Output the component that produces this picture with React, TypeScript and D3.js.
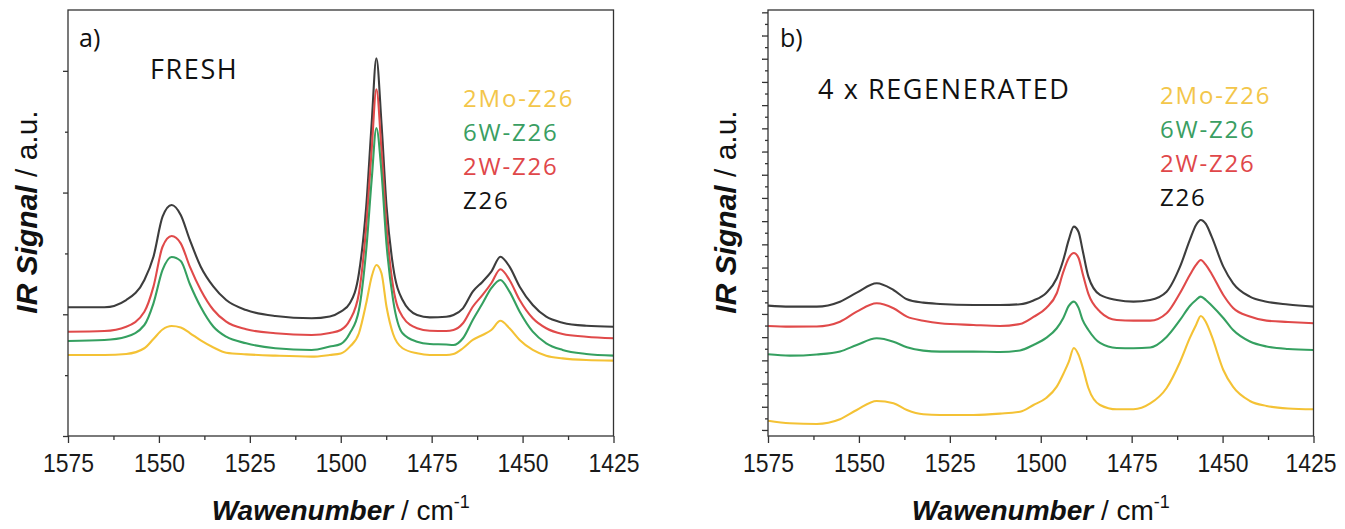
import React, { useEffect, useRef } from 'react';
import * as d3 from 'd3';

// ---------- data ----------
const X_MAJOR = [1575, 1550, 1525, 1500, 1475, 1450, 1425];
const X_MINOR = [1562.5, 1537.5, 1512.5, 1487.5, 1462.5, 1437.5];

const SERIES = ['2Mo-Z26', '6W-Z26', '2W-Z26', 'Z26'];

// Panel a) FRESH
const WN_A = [1575, 1565, 1559, 1554, 1551.5, 1549, 1546.5, 1544, 1541.5, 1538.5, 1535, 1531.5, 1526, 1518, 1508, 1503, 1500, 1497.5, 1495, 1493, 1491.5, 1490.2, 1488.8, 1487.4, 1485.6, 1483, 1479, 1475.5, 1471, 1469, 1466.4, 1463.7, 1461, 1458.6, 1456.1, 1453.6, 1450.8, 1447.2, 1443.5, 1439, 1432.5, 1425];
const Z26_A = [1.058, 1.058, 1.117, 1.282, 1.473, 1.802, 1.898, 1.816, 1.611, 1.391, 1.227, 1.117, 1.035, 0.986, 0.967, 0.982, 1.021, 1.090, 1.337, 1.884, 2.569, 3.104, 2.569, 1.884, 1.391, 1.117, 0.994, 0.975, 0.980, 0.994, 1.049, 1.186, 1.268, 1.350, 1.473, 1.391, 1.227, 1.076, 0.980, 0.931, 0.906, 0.898];
const W2_A = [0.857, 0.863, 0.898, 1.021, 1.227, 1.555, 1.643, 1.583, 1.391, 1.200, 1.035, 0.939, 0.877, 0.844, 0.830, 0.846, 0.871, 0.953, 1.173, 1.720, 2.350, 2.849, 2.350, 1.720, 1.227, 0.980, 0.885, 0.865, 0.863, 0.871, 0.926, 1.062, 1.159, 1.255, 1.370, 1.282, 1.117, 0.967, 0.885, 0.838, 0.816, 0.803];
const W6_A = [0.781, 0.789, 0.816, 0.912, 1.090, 1.364, 1.471, 1.438, 1.249, 1.060, 0.898, 0.816, 0.762, 0.721, 0.707, 0.735, 0.756, 0.844, 1.035, 1.528, 2.104, 2.531, 2.169, 1.569, 1.117, 0.844, 0.775, 0.756, 0.752, 0.748, 0.803, 0.953, 1.090, 1.214, 1.282, 1.186, 1.021, 0.857, 0.762, 0.707, 0.674, 0.660];
const MO2_A = [0.666, 0.666, 0.674, 0.721, 0.797, 0.875, 0.904, 0.892, 0.846, 0.785, 0.727, 0.684, 0.671, 0.660, 0.652, 0.666, 0.678, 0.734, 0.844, 1.090, 1.309, 1.405, 1.337, 1.060, 0.838, 0.721, 0.680, 0.666, 0.666, 0.674, 0.721, 0.789, 0.830, 0.871, 0.947, 0.885, 0.789, 0.707, 0.660, 0.638, 0.624, 0.619];

// Panel b) 4 x REGENERATED
const WN_B = [1575, 1569, 1561.6, 1555.2, 1550.6, 1545.1, 1540.5, 1536.8, 1532.3, 1527.7, 1518.5, 1511.2, 1505.7, 1502, 1498.5, 1495.6, 1493.8, 1492.3, 1490.9, 1489.6, 1488.5, 1486.9, 1483.7, 1479.1, 1474.5, 1469.9, 1465.4, 1461.7, 1459, 1457.3, 1456, 1454.6, 1453, 1449.8, 1447.1, 1442.5, 1437.9, 1432, 1425];
const Z26_B = [5.358, 5.315, 5.315, 5.530, 5.918, 6.323, 6.034, 5.634, 5.487, 5.431, 5.388, 5.388, 5.418, 5.582, 5.905, 6.539, 7.328, 8.190, 8.763, 8.534, 7.759, 6.608, 5.819, 5.603, 5.530, 5.603, 5.961, 7.039, 8.190, 8.836, 9.052, 8.879, 8.332, 7.039, 6.323, 5.746, 5.530, 5.409, 5.315];
const W2_B = [4.483, 4.453, 4.461, 4.668, 5.099, 5.461, 5.246, 4.884, 4.711, 4.599, 4.526, 4.483, 4.569, 4.871, 5.259, 5.892, 6.810, 7.414, 7.629, 7.414, 6.754, 5.862, 5.099, 4.741, 4.711, 4.711, 5.030, 5.905, 6.681, 7.112, 7.328, 7.112, 6.724, 5.819, 5.259, 4.892, 4.711, 4.655, 4.599];
const W6_B = [3.263, 3.203, 3.254, 3.384, 3.664, 3.953, 3.806, 3.565, 3.418, 3.375, 3.375, 3.362, 3.427, 3.664, 3.966, 4.384, 4.828, 5.345, 5.530, 5.259, 4.741, 4.310, 3.750, 3.534, 3.522, 3.556, 4.009, 4.741, 5.345, 5.603, 5.746, 5.603, 5.366, 4.828, 4.310, 3.815, 3.599, 3.491, 3.448];
const MO2_B = [0.401, 0.289, 0.259, 0.461, 0.862, 1.250, 1.151, 0.862, 0.677, 0.647, 0.647, 0.703, 0.789, 1.078, 1.379, 1.866, 2.414, 2.931, 3.534, 3.233, 2.716, 1.810, 1.078, 0.892, 0.892, 1.142, 1.810, 2.931, 3.966, 4.526, 4.914, 4.655, 4.052, 2.586, 1.853, 1.250, 1.034, 0.927, 0.892];

const Y_MAJOR_A = [0, 1, 2, 3];
const Y_MINOR_A = [0.5, 1.5, 2.5];
const Y_MAJOR_B = d3.range(0, 19, 1);
const Y_MINOR_B = d3.range(0.5, 18, 1);

// ---------- style ----------
const LINE_COLORS: Record<string, string> = {
  'Z26': '#3d3d3d',
  '2W-Z26': '#e04a4a',
  '6W-Z26': '#35a060',
  '2Mo-Z26': '#f4c235',
};
const TEXT_COLORS: Record<string, string> = {
  'Z26': '#111111',
  '2W-Z26': '#e0474a',
  '6W-Z26': '#3a9e62',
  '2Mo-Z26': '#f3c64a',
};
const AXIS_COLOR = '#333333';
const TOP = 10;
const BOTTOM = 436;
const SANS = "'Liberation Sans', Arial, sans-serif";
const LABEL = "'Open Sans', 'DejaVu Sans', sans-serif";

type PanelProps = {
  x0: number;
  x1: number;
  wn: number[];
  data: Record<string, number[]>;
  yDomain: [number, number];
  yMajor: number[];
  yMinor: number[];
  majorLen: number;
  minorLen: number;
  tag: string;
  tagX: number;
  note: string;
  noteX: number;
  noteY: number;
  legendX: number;
  legendY: number;
  yTitleX: number;
  lastLabelShift: number;
};

function Panel(p: PanelProps) {
  const axisRef = useRef<SVGGElement>(null);
  const xScale = d3.scaleLinear().domain([1575, 1425]).range([p.x0, p.x1]);
  const yScale = d3.scaleLinear().domain(p.yDomain).range([BOTTOM, TOP]);

  useEffect(() => {
    const g = d3.select(axisRef.current);
    g.selectAll('*').remove();

    const bMajor = g.append('g').attr('transform', `translate(0,${BOTTOM})`)
      .call(d3.axisBottom(xScale).tickValues(X_MAJOR).tickSize(7).tickPadding(11).tickFormat(d3.format('d')));
    const bMinor = g.append('g').attr('transform', `translate(0,${BOTTOM})`)
      .call(d3.axisBottom(xScale).tickValues(X_MINOR).tickSize(4).tickFormat(() => ''));
    const lMajor = g.append('g').attr('transform', `translate(${p.x0},0)`)
      .call(d3.axisLeft(yScale).tickValues(p.yMajor).tickSize(p.majorLen).tickFormat(() => ''));
    const lMinor = g.append('g').attr('transform', `translate(${p.x0},0)`)
      .call(d3.axisLeft(yScale).tickValues(p.yMinor).tickSize(p.minorLen).tickFormat(() => ''));

    [bMajor, bMinor, lMajor, lMinor].forEach((a) => {
      a.select('.domain').remove();
      a.selectAll('line').attr('stroke', AXIS_COLOR).attr('stroke-width', 1.3);
    });
    bMajor.selectAll<SVGTextElement, number>('text')
      .attr('fill', '#1a1a1a')
      .attr('font-family', SANS)
      .attr('font-size', 26)
      .attr('textLength', 51)
      .attr('lengthAdjust', 'spacingAndGlyphs')
      .attr('dx', (d) => (d === 1425 ? -p.lastLabelShift : 0));
  });

  const line = d3.line<[number, number]>()
    .x((d) => xScale(d[0]))
    .y((d) => yScale(d[1]))
    .curve(d3.curveMonotoneX);

  const drawOrder = ['Z26', '2W-Z26', '6W-Z26', '2Mo-Z26'];
  const cx = (p.x0 + p.x1) / 2;

  return (
    <g>
      {drawOrder.map((name) => (
        <path
          key={name}
          d={line(p.wn.map((w, i) => [w, p.data[name][i]] as [number, number])) || ''}
          fill="none"
          stroke={LINE_COLORS[name]}
          strokeWidth={2.1}
          strokeLinejoin="round"
        />
      ))}
      <rect x={p.x0} y={TOP} width={p.x1 - p.x0} height={BOTTOM - TOP} fill="none" stroke={AXIS_COLOR} strokeWidth={1.3} />
      <g ref={axisRef} />
      <text x={p.tagX} y={47} fontFamily={LABEL} fontSize={25} fill="#111">{p.tag}</text>
      <text x={p.noteX} y={p.noteY} fontFamily={LABEL} fontSize={27} letterSpacing={1.6} fill="#111">{p.note}</text>
      {SERIES.map((name, i) => (
        <text
          key={name}
          x={p.legendX}
          y={p.legendY + i * 34}
          fontFamily={LABEL}
          fontSize={24}
          letterSpacing={1.8}
          fill={TEXT_COLORS[name]}
        >
          {name}
        </text>
      ))}
      <text x={cx} y={520} textAnchor="middle" fontFamily={SANS} fontSize={28} fill="#111">
        <tspan fontWeight="bold" fontStyle="italic">Wawenumber</tspan>
        <tspan> / cm</tspan>
        <tspan fontSize={18} dy={-12}>-1</tspan>
      </text>
      <text
        transform={`translate(${p.yTitleX},212) rotate(-90)`}
        textAnchor="middle"
        fontFamily={SANS}
        fontSize={30}
        fill="#111"
      >
        <tspan fontWeight="bold" fontStyle="italic">IR Signal</tspan>
        <tspan> / a.u.</tspan>
      </text>
    </g>
  );
}

export default function App() {
  const dataA: Record<string, number[]> = { 'Z26': Z26_A, '2W-Z26': W2_A, '6W-Z26': W6_A, '2Mo-Z26': MO2_A };
  const dataB: Record<string, number[]> = { 'Z26': Z26_B, '2W-Z26': W2_B, '6W-Z26': W6_B, '2Mo-Z26': MO2_B };
  return (
    <svg width={1345} height={529} style={{ position: 'absolute', left: 0, top: 0, background: '#fff' }}>
      <rect x={0} y={0} width={1345} height={529} fill="#fff" />
      <Panel
        x0={68} x1={613.5} wn={WN_A} data={dataA}
        yDomain={[0, 3.5]} yMajor={Y_MAJOR_A} yMinor={Y_MINOR_A} majorLen={5} minorLen={3}
        tag="a)" tagX={79}
        note="FRESH" noteX={150} noteY={79}
        legendX={463} legendY={107}
        yTitleX={37}
        lastLabelShift={0}
      />
      <Panel
        x0={768} x1={1313.5} wn={WN_B} data={dataB}
        yDomain={[-0.26, 18.1]} yMajor={Y_MAJOR_B} yMinor={Y_MINOR_B} majorLen={6} minorLen={3}
        tag="b)" tagX={780}
        note="4 x REGENERATED" noteX={818} noteY={99}
        legendX={1160} legendY={104}
        yTitleX={736}
        lastLabelShift={3}
      />
    </svg>
  );
}
